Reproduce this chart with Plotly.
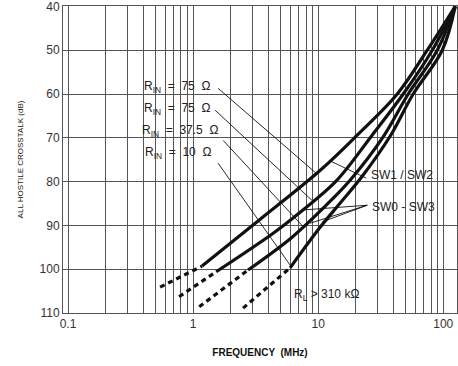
import numpy as np
import plotly.graph_objects as go

# Frequency (MHz) and all-hostile crosstalk (dB) for each load/source case
freq_a = [1.18, 3.44, 10.4, 20.5, 42.9, 74.5, 124.7]
xtalk_a = [99.3, 88.6, 77.4, 69.4, 60.0, 50.0, 40.0]
freq_b = [1.53, 4.37, 7.18, 13.9, 27.0, 47.9, 81.7, 124.7]
xtalk_b = [100.6, 91.8, 87.0, 79.9, 69.4, 60.0, 50.0, 40.0]
freq_c = [2.75, 6.19, 11.4, 18.0, 33.1, 52.5, 89.5, 124.7]
xtalk_c = [100.2, 92.7, 85.6, 79.7, 69.8, 60.0, 50.0, 40.0]
freq_d = [5.97, 10.4, 15.0, 22.5, 37.7, 57.5, 98.2, 124.7]
xtalk_d = [99.7, 90.4, 84.9, 78.8, 69.6, 60.0, 50.0, 40.0]

# Extrapolated low-frequency segments (dashed)
ext_freq_a = [0.545, 1.18]
ext_xtalk_a = [104.1, 99.3]
ext_freq_b = [0.773, 1.53]
ext_xtalk_b = [106.3, 100.6]
ext_freq_c = [1.12, 2.75]
ext_xtalk_c = [108.6, 100.2]
ext_freq_d = [2.51, 5.97]
ext_xtalk_d = [108.9, 99.7]

# Axis ticks
x_major = [0.1, 1, 10, 100]
x_major_text = ["0.1", "1", "10", "100"]
y_ticks = [40, 50, 60, 70, 80, 90, 100, 110]

# Source-resistance labels: text, left-edge frequency, crosstalk level
nb = "\u00a0"
rin_labels = [f"R<sub>IN</sub>{nb}{nb}={nb}{nb}75{nb}{nb}Ω",
              f"R<sub>IN</sub>{nb}{nb}={nb}{nb}75{nb}{nb}Ω",
              f"R<sub>IN</sub>{nb}{nb}={nb}{nb}37.5{nb}{nb}Ω",
              f"R<sub>IN</sub>{nb}{nb}={nb}{nb}10{nb}{nb}Ω"]
rin_label_freq = [0.39, 0.39, 0.375, 0.40]
rin_label_db = [58.4, 63.4, 68.4, 73.4]
# Leader lines from each R_IN label to its curve
rin_lead_start_f = [1.585, 1.50, 1.74, 1.585]
rin_lead_start_db = [58.7, 63.7, 70.6, 75.8]
rin_lead_end_f = [9.82, 9.09, 7.70, 6.08]
rin_lead_end_db = [78.3, 84.5, 90.5, 99.4]

# Switch / load labels
sw_labels = ["SW1 / SW2", "SW0 - SW3", "R<sub>L</sub> > 310 kΩ"]
sw_label_freq = [25.6, 26.1, 6.2]
sw_label_db = [78.6, 85.8, 105.9]
# SW1/SW2 points at the top curve, SW0-SW3 at the other three
sw_lead_start_f = [24.2, 24.7, 24.7, 24.7]
sw_lead_start_db = [79.2, 85.4, 85.4, 85.4]
sw_lead_end_f = [12.5, 7.45, 8.63, 10.8]
sw_lead_end_db = [75.3, 86.5, 89.5, 89.2]

# x grid at every 1..9 multiple of each decade
x_grid = []
for d in range(-1, 3):
    for k in range(1, 10):
        v = k * 10.0 ** d
        if v <= 130:
            x_grid.append(v)
x_grid_text = [x_major_text[x_major.index(v)] if v in x_major else "" for v in x_grid]

ink = "#111111"
grid = "#555555"
font_family = "Liberation Sans, Arial, sans-serif"

fig = go.Figure()

for f, y in [(freq_a, xtalk_a), (freq_b, xtalk_b), (freq_c, xtalk_c), (freq_d, xtalk_d)]:
    fig.add_trace(go.Scatter(x=f, y=y, mode="lines",
                             line=dict(color=ink, width=3.2, shape="spline", smoothing=1.0),
                             hoverinfo="skip", showlegend=False))

for f, y in [(ext_freq_a, ext_xtalk_a), (ext_freq_b, ext_xtalk_b),
             (ext_freq_c, ext_xtalk_c), (ext_freq_d, ext_xtalk_d)]:
    fig.add_trace(go.Scatter(x=f, y=y, mode="lines",
                             line=dict(color=ink, width=3.2, dash="5px,4px"),
                             hoverinfo="skip", showlegend=False))

for i in range(len(rin_labels)):
    fig.add_trace(go.Scatter(x=[rin_lead_start_f[i], rin_lead_end_f[i]],
                             y=[rin_lead_start_db[i], rin_lead_end_db[i]],
                             mode="lines", line=dict(color=ink, width=0.9),
                             hoverinfo="skip", showlegend=False))
    fig.add_annotation(x=np.log10(rin_label_freq[i]), y=rin_label_db[i],
                       xref="x", yref="y", text=rin_labels[i], showarrow=False,
                       xanchor="left", yanchor="middle",
                       font=dict(family=font_family, size=12, color="#222222"))

for i in range(len(sw_lead_start_f)):
    fig.add_trace(go.Scatter(x=[sw_lead_start_f[i], sw_lead_end_f[i]],
                             y=[sw_lead_start_db[i], sw_lead_end_db[i]],
                             mode="lines", line=dict(color=ink, width=0.9),
                             hoverinfo="skip", showlegend=False))

for i in range(len(sw_labels)):
    fig.add_annotation(x=np.log10(sw_label_freq[i]), y=sw_label_db[i],
                       xref="x", yref="y", text=sw_labels[i], showarrow=False,
                       xanchor="left", yanchor="middle",
                       font=dict(family=font_family, size=12, color="#222222"))

fig.update_xaxes(type="log", range=[-1.04, 2.11], tickvals=x_grid, ticktext=x_grid_text,
                 showgrid=True, gridcolor=grid, gridwidth=0.8, ticks="",
                 showline=True, linecolor=grid, linewidth=1, mirror=True, zeroline=False,
                 tickfont=dict(family=font_family, size=12, color="#333333"),
                 title=dict(text="<b>FREQUENCY  (MHz)</b>", standoff=18,
                            font=dict(family=font_family, size=10, color="#111111")))
fig.update_yaxes(range=[110.02, 39.9], tickvals=y_ticks, showgrid=True, gridcolor=grid,
                 gridwidth=0.8, ticks="", showline=True, linecolor=grid, linewidth=1,
                 mirror=True, zeroline=False, ticklabeloverflow="allow",
                 tickfont=dict(family=font_family, size=12, color="#333333"),
                 title=dict(text="ALL HOSTILE CROSSTALK (dB)", standoff=14,
                            font=dict(family=font_family, size=8, color="#111111")))

fig.update_layout(width=458, height=366, margin=dict(l=63, r=1, t=6, b=53),
                  paper_bgcolor="white", plot_bgcolor="white")

fig.write_html("out.html")
